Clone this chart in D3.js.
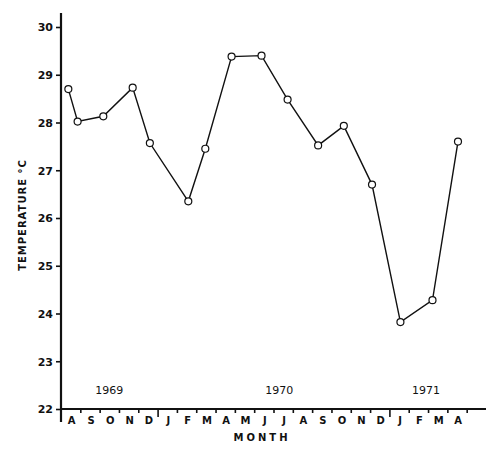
<!DOCTYPE html>
<html><head><meta charset="utf-8">
<script src="https://cdn.jsdelivr.net/npm/d3@7"></script>
<style>
html,body{margin:0;padding:0;background:#fff;}
text{font-family:"DejaVu Sans",sans-serif;font-weight:bold;fill:#111;}
</style></head>
<body><svg id="c" width="500" height="452"></svg>
<script>
// months since 1 Aug 1969 (sampling dates)
const sampleMonth = [0.38, 0.86, 2.19, 3.71, 4.60, 6.59, 7.47, 8.83, 10.38, 11.73, 13.31, 14.64, 16.10, 17.57, 19.23, 20.55];
const temperature = [28.70, 28.02, 28.13, 28.73, 27.57, 26.35, 27.45, 29.38, 29.40, 28.48, 27.52, 27.93, 26.70, 23.82, 24.28, 27.60];
const monthLabels = ["A","S","O","N","D","J","F","M","A","M","J","J","A","S","O","N","D","J","F","M","A"];
const yearLabels = ["1969","1970","1971"];
const yearLabelPos = [2.5, 11.3, 18.9];
const yTicks = [22,23,24,25,26,27,28,29,30];
const yearBoundaries = [5, 17];

const svg = d3.select("#c");
const x = d3.scaleLinear().domain([0, 22]).range([61, 486]);
const y = d3.scaleLinear().domain([22, 30]).range([409, 27]);

// y axis
const ya = svg.append("g").attr("transform","translate(61,0)")
  .call(d3.axisLeft(y).tickValues(yTicks).tickSize(5).tickPadding(3).tickFormat(d3.format("d")));
ya.select(".domain").remove();
ya.selectAll(".tick line").attr("stroke","#111").attr("stroke-width",1.6);
ya.selectAll(".tick text").style("font-size","11px").attr("dy","0.36em");
svg.append("line").attr("x1",61).attr("x2",61).attr("y1",13).attr("y2",422)
  .attr("stroke","#111").attr("stroke-width",2.2);

// x axis
const xa = svg.append("g").attr("transform","translate(0,409)")
  .call(d3.axisBottom(x).tickValues(d3.range(1, monthLabels.length+1)).tickSize(4).tickFormat(""));
xa.select(".domain").remove();
xa.selectAll(".tick line").attr("stroke","#111").attr("stroke-width",1.6)
  .attr("y2", d => yearBoundaries.includes(d) ? 8 : 4);
svg.append("line").attr("x1",61).attr("x2",x(22)).attr("y1",409).attr("y2",409)
  .attr("stroke","#111").attr("stroke-width",2.2);

svg.append("g").selectAll("text").data(monthLabels).join("text")
  .attr("x",(d,i)=>x(i+0.5)+1).attr("y",424).attr("text-anchor","middle")
  .style("font-size","10px").text(d=>d);

svg.append("g").selectAll("text").data(yearLabels).join("text")
  .attr("x",(d,i)=>x(yearLabelPos[i])).attr("y",394).attr("text-anchor","middle")
  .style("font-size","11px").style("font-weight","normal").text(d=>d);

svg.append("text").attr("x",262).attr("y",441).attr("text-anchor","middle")
  .style("font-size","10px").style("letter-spacing","3px").text("MONTH");

svg.append("text").attr("transform","translate(26,215) rotate(-90)").attr("text-anchor","middle")
  .style("font-size","10px").style("letter-spacing","1px").text("TEMPERATURE °C");

// data
const pts = sampleMonth.map((m,i)=>[m, temperature[i]]);
svg.append("path").datum(pts)
  .attr("d", d3.line().x(d=>x(d[0])).y(d=>y(d[1])))
  .attr("fill","none").attr("stroke","#111").attr("stroke-width",1.4);
svg.append("g").selectAll("circle").data(pts).join("circle")
  .attr("cx",d=>x(d[0])).attr("cy",d=>y(d[1])).attr("r",3.5)
  .attr("fill","#fff").attr("stroke","#111").attr("stroke-width",1.2);
</script></body></html>
